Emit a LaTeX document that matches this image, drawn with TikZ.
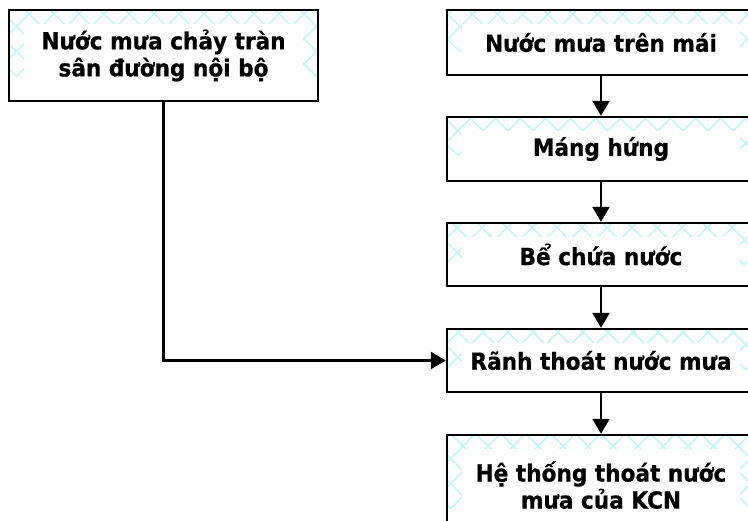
\documentclass[tikz,border=0pt]{standalone}
\usepackage{fontspec}
\setmainfont{DejaVu Sans}[FakeStretch=0.92, BoldFeatures={FakeBold=0.6}]
\usetikzlibrary{arrows.meta}
\definecolor{patcyan}{RGB}{192,245,245}
\tikzset{
  box/.style={draw=black, line width=2.4pt, inner sep=0pt, align=center,
    font=\bfseries\fontsize{23.5}{27}\selectfont,
    path picture={
      \begin{scope}[shift={(path picture bounding box.south west)}]
        \foreach \k in {-8,...,20} {
          \draw[patcyan, line width=1.5pt] (\k*25,0) -- ++(160,160);
          \draw[patcyan, line width=1.5pt] (\k*25,0) -- ++(-160,160);
        }
      \end{scope}
      \fill[white] ([shift={(15,10)}]path picture bounding box.south west)
        rectangle ([shift={(-15,-14)}]path picture bounding box.north east);
    }},
  conn/.style={draw=black, line width=2.4pt},
  arr/.style={conn, -{Triangle[length=15pt,width=17pt]}}
}
\begin{document}
\begin{tikzpicture}[x=1pt,y=1pt]
\useasboundingbox (0,0) rectangle (748,-521);
\node[box, minimum width=309pt, minimum height=91pt] (L) at (163.5,-55.5)
  {Nước mưa chảy tràn\\sân đường nội bộ};
\node[box, minimum width=308pt, minimum height=65pt] (R1) at (601,-42.5) {Nước mưa trên mái};
\node[box, minimum width=308pt, minimum height=64pt] (R2) at (601,-149) {Máng hứng};
\node[box, minimum width=308pt, minimum height=63pt] (R3) at (601,-254.5) {Bể chứa nước};
\node[box, minimum width=308pt, minimum height=63pt] (R4) at (601,-360.5) {Rãnh thoát nước mưa};
\node[box, minimum width=308pt, minimum height=100pt] (R5) at (601,-485) {Hệ thống thoát nước\\mưa của KCN};
\draw[arr] (R1) -- (R2);
\draw[arr] (R2) -- (R3);
\draw[arr] (R3) -- (R4);
\draw[arr] (R4) -- (R5);
\draw[arr] (L.south) |- (R4.west);
\end{tikzpicture}
\end{document}
